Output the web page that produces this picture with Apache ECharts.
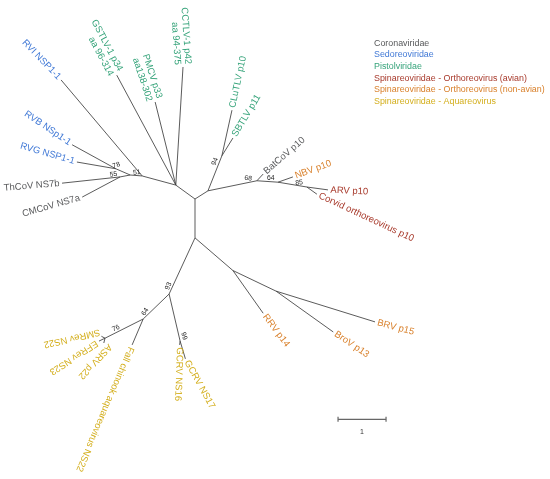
<!DOCTYPE html>
<html>
<head>
<meta charset="utf-8">
<script src="https://cdn.jsdelivr.net/npm/echarts/dist/echarts.min.js"></script>
<style>html,body{margin:0;padding:0;background:#fff;}#c{width:550px;height:479px;}</style>
</head>
<body>
<div id="c"></div>
<script>
// ---------------- DATA (tree layout in branch-length units) ----------------
const nodeId = ['root','nA','n51','nMid','n78','n55','nR','n94','n68','n64','n85','nB','nOrth','nBr','n93','nGC','n64b','n76',
  'RVI','RVB','RVG','ThCoV','CMCoV','GSTLV','PMCV','CCTLV','CLuTLV','SBTLV','BatCoV','NBV','ARV','Corvid','RRV','BroV','BRV','GCRV16','GCRV17','Fall','SMRev','EFRev','ASRV'];
const nodeParent = [null,'root','nA','n51','nMid','nMid','root','nR','nR','n68','n64','root','nB','nOrth','nB','n93','n93','n64b',
  'n51','n78','n78','n55','n55','nA','nA','nA','n94','n94','n68','n64','n85','n85','nOrth','nBr','nBr','nGC','nGC','n64b','n76','n76','n76'];
const nodeX = [0,-0.40,-1.10,-1.35,-1.65,-1.56,0.27,0.56,1.29,1.73,2.33,0,0.79,1.69,-0.54,-0.31,-1.08,-1.875,
  -2.79,-2.56,-2.46,-2.77,-2.35,-1.63,-0.83,-0.25,0.77,0.79,1.42,2.04,2.77,2.54,1.42,2.88,3.75,-0.32,-0.20,-1.31,-1.95,-2.00,-1.90];
const nodeY = [0,0.29,0.48,0.50,0.63,0.46,0.17,0.90,0.38,0.35,0.25,-0.81,-1.49,-1.92,-1.98,-2.96,-2.50,-2.90,
  2.48,1.13,0.77,0.33,0.04,2.58,2.02,2.75,1.85,1.27,0.52,0.46,0.19,0.10,-2.38,-2.77,-2.56,-3.04,-3.33,-3.04,-2.86,-2.96,-3.00];

const groups = ['Coronaviridae','Sedoreoviridae','Pistolviridae','Spinareoviridae - Orthoreovirus (avian)','Spinareoviridae - Orthoreovirus (non-avian)','Spinareoviridae - Aquareovirus'];
const tipNode = ['RVI','RVB','RVG','ThCoV','CMCoV','GSTLV','PMCV','CCTLV','CLuTLV','SBTLV','BatCoV','NBV','ARV','Corvid','RRV','BroV','BRV','GCRV16','GCRV17','Fall','SMRev','EFRev','ASRV'];
const tipText = ['RVI NSP1-1','RVB NSp1-1','RVG NSP1-1','ThCoV NS7b','CMCoV NS7a','GSTLV-1 p34\naa 96-314','PMCV p33\naa138-302','CCTLV-1 p42\naa 94-375','CLuTLV p10','SBTLV p11','BatCoV p10','NBV p10','ARV p10','Corvid orthoreovirus p10','RRV p14','BroV p13','BRV p15','GCRV NS16','GCRV NS17','Fall chinook aquareovirus NS22','SMRev NS22','EFRev NS23','ASRV p22'];
const tipGroup = [1,1,1,0,0,2,2,2,2,2,0,4,3,3,4,4,4,5,5,5,5,5,5];

const supportNode = ['n78','n55','n51','n94','n68','n64','n85','n93','n64b','n76','nGC'];
const supportValue = [78,55,51,94,68,64,85,93,64,76,99];

const scaleLength = 1;
const scaleLabel = '1';

// ---------------- STYLE ----------------
const groupColor = ['#58595b','#4179d6','#37a47b','#a83a2c','#d9812c','#d4af1e'];
const FONT = 'Liberation Sans, Arial, sans-serif';
const tipStyle = {
  RVI:{a:-46,r:1}, RVB:{a:-34,r:1}, RVG:{a:-16,r:1}, ThCoV:{a:5,r:1}, CMCoV:{a:16,r:1},
  GSTLV:{a:-62,r:1}, PMCV:{a:-72,r:1}, CCTLV:{a:-86,r:1},
  CLuTLV:{a:78}, SBTLV:{a:59}, BatCoV:{a:41}, NBV:{a:20}, ARV:{a:-3}, Corvid:{a:-25},
  RRV:{a:-53}, BroV:{a:-34}, BRV:{a:-15}, GCRV16:{a:-92}, GCRV17:{a:-61},
  Fall:{a:-113}, SMRev:{a:-167, ox:1, oy:-5}, EFRev:{a:-147, ox:0, oy:0}, ASRV:{a:-133, ox:8, oy:0.5}
};
const supportStyle = {
  n78:{dx:0.5,dy:-3.5,a:18}, n55:{dx:-6.7,dy:-2.5,a:8}, n51:{dx:-5.3,dy:-3.5,a:5},
  n94:{dx:-7,dy:5.7,a:68}, n68:{dx:-8.7,dy:-2.5,a:-5}, n64:{dx:-7.3,dy:-4.3,a:0},
  n85:{dx:-7.7,dy:-4.3,a:5}, n93:{dx:-0.7,dy:-8,a:68}, n64b:{dx:2,dy:-7.3,a:58},
  n76:{dx:11,dy:-10,a:25}, nGC:{dx:4,dy:-5,a:-72}
};
const scaleBarAt = [2.98, -4.59];

// ---------------- BUILD ----------------
const idx = {};
nodeId.forEach((id,i)=>idx[id]=i);
const edgeData = [];
nodeId.forEach((id,i)=>{
  const p = nodeParent[i];
  if (p) edgeData.push([nodeX[idx[p]], nodeY[idx[p]], nodeX[i], nodeY[i]]);
});

function tipSeries(g){
  const data = [];
  tipNode.forEach((t,i)=>{ if (tipGroup[i]===g) data.push([nodeX[idx[t]], nodeY[idx[t]], i]); });
  return {
    type:'custom', name: groups[g], coordinateSystem:'cartesian2d', silent:true,
    data,
    renderItem:function(params, api){
      const i = api.value(2);
      const p = api.coord([api.value(0), api.value(1)]);
      const st = tipStyle[tipNode[i]];
      const right = !!st.r;
      return {type:'text', x:p[0]+(st.ox||0), y:p[1]+(st.oy||0), rotation: st.a*Math.PI/180,
        style:{text: tipText[i], x: right ? -2.5 : 2.5, y:0, align: right ? 'right':'left', verticalAlign:'middle',
          fill: groupColor[tipGroup[i]], fontSize:9.5, fontFamily:FONT, lineHeight:10.5}};
    }
  };
}

const series = [
  {
    type:'custom', name:'edges', coordinateSystem:'cartesian2d', silent:true, data: edgeData,
    renderItem:function(params, api){
      const a = api.coord([api.value(0), api.value(1)]);
      const b = api.coord([api.value(2), api.value(3)]);
      return {type:'line', shape:{x1:a[0],y1:a[1],x2:b[0],y2:b[1]}, style:{stroke:'#3d3d3d', lineWidth:0.85}};
    }
  },
  {
    type:'custom', name:'support', coordinateSystem:'cartesian2d', silent:true,
    data: supportNode.map((n,i)=>[nodeX[idx[n]], nodeY[idx[n]], i]),
    renderItem:function(params, api){
      const i = api.value(2);
      const p = api.coord([api.value(0), api.value(1)]);
      const st = supportStyle[supportNode[i]];
      return {type:'text', x:p[0]+st.dx, y:p[1]+st.dy, rotation: st.a*Math.PI/180,
        style:{text:String(supportValue[i]), x:0, y:0, align:'center', verticalAlign:'middle', fill:'#222', fontSize:6.8, fontFamily:FONT}};
    }
  },
  {
    type:'custom', name:'scale', coordinateSystem:'cartesian2d', silent:true,
    data:[[scaleBarAt[0], scaleBarAt[1], scaleLength]],
    renderItem:function(params, api){
      const a = api.coord([api.value(0), api.value(1)]);
      const b = api.coord([api.value(0)+api.value(2), api.value(1)]);
      const s = {stroke:'#666', lineWidth:1.2};
      return {type:'group', children:[
        {type:'line', shape:{x1:a[0],y1:a[1],x2:b[0],y2:b[1]}, style:s},
        {type:'line', shape:{x1:a[0],y1:a[1]-2.5,x2:a[0],y2:a[1]+2.5}, style:s},
        {type:'line', shape:{x1:b[0],y1:b[1]-2.5,x2:b[0],y2:b[1]+2.5}, style:s},
        {type:'text', x:(a[0]+b[0])/2, y:a[1]+13, style:{text:scaleLabel, align:'center', verticalAlign:'middle', fill:'#333', fontSize:7, fontFamily:FONT}}
      ]};
    }
  }
];
for (let g=0; g<groups.length; g++) series.push(tipSeries(g));

const chart = echarts.init(document.getElementById('c'), null, {renderer:'canvas'});
chart.setOption({
  animation:false,
  backgroundColor:'#fff',
  grid:{left:0,right:0,top:0,bottom:0},
  xAxis:{type:'value', min:-195/48, max:355/48, show:false},
  yAxis:{type:'value', min:-280/48, max:199/48, show:false},
  legend:{
    orient:'vertical', left:369, top:37.5, padding:0, itemGap:0, itemWidth:0, itemHeight:0,
    selectedMode:false,
    textStyle:{fontSize:8.9, fontFamily:FONT, lineHeight:11.6},
    data: groups.map((g,i)=>({name:g, icon:'none', textStyle:{color:groupColor[i]}}))
  },
  series
});
</script>
</body>
</html>
